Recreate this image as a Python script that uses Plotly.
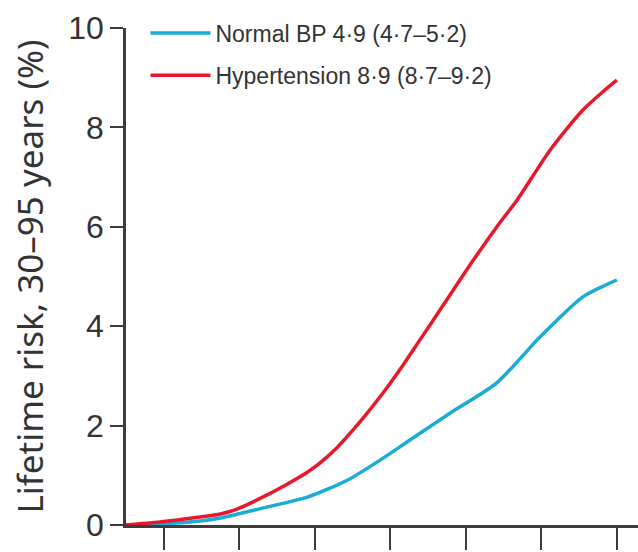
import plotly.graph_objects as go

age_hyp = [30, 34.5, 39.8, 42.5, 44.7, 48.1, 51.1, 54.0, 55.7, 57.9, 59.7, 61.4, 64.0, 66.7, 68.9, 71.6,
           76.0, 79.5, 81.8, 86.2, 90.5, 93.4, 95]
risk_hyp = [0, 0.06, 0.16, 0.22, 0.32, 0.56, 0.8, 1.06, 1.25, 1.55, 1.85, 2.15, 2.65, 3.22, 3.72, 4.33,
            5.33, 6.08, 6.54, 7.55, 8.35, 8.75, 8.95]

age_norm = [30, 34.5, 39.8, 42.5, 48.1, 54.0, 59.3, 63.6, 67.6, 72.9, 79.1, 84.8, 90.5, 93.4, 95]
risk_norm = [0, 0.02, 0.08, 0.14, 0.34, 0.56, 0.9, 1.3, 1.71, 2.25, 2.86, 3.78, 4.59, 4.82, 4.93]

x_ticks = [35, 45, 55, 65, 75, 85, 95]
y_ticks = [0, 2, 4, 6, 8, 10]

label_norm = "Normal BP 4·9 (4·7–5·2)"
label_hyp = "Hypertension 8·9 (8·7–9·2)"

SANS = "Liberation Sans, Arial, sans-serif"
AXIS = "#3c3c3c"
TXT = "#333333"

fig = go.Figure()
fig.add_trace(go.Scatter(x=age_norm, y=risk_norm, mode="lines", name=label_norm, showlegend=True,
                         line=dict(color="#1aabd6", width=3.5, shape="spline", smoothing=0.7),
                         legend="legend"))
fig.add_trace(go.Scatter(x=age_hyp, y=risk_hyp, mode="lines", name=label_hyp, showlegend=True,
                         line=dict(color="#e8182c", width=3.5, shape="spline", smoothing=0.7),
                         legend="legend2"))

leg_common = dict(xanchor="left", yanchor="middle", bgcolor="rgba(0,0,0,0)",
                  font=dict(family=SANS, size=23, color=TXT), itemwidth=60)
fig.update_layout(
    width=638, height=552,
    showlegend=True,
    margin=dict(l=126, r=0, t=28, b=27),
    plot_bgcolor="white", paper_bgcolor="white",
    legend=dict(x=0.038, y=0.99, **leg_common),
    legend2=dict(x=0.038, y=0.905, **leg_common),
    xaxis=dict(range=[30, 97.8], tickvals=x_ticks, showticklabels=False,
               ticks="outside", ticklen=22, tickwidth=2, tickcolor=AXIS,
               showline=True, linecolor=AXIS, linewidth=3, showgrid=False, zeroline=False),
    yaxis=dict(range=[0, 10], tickvals=y_ticks, ticks="outside", ticklen=13, tickwidth=2,
               tickcolor=AXIS, showline=True, linecolor=AXIS, linewidth=2.5,
               showgrid=False, zeroline=False,
               tickfont=dict(family=SANS, size=32, color=TXT),
               title=dict(text="Lifetime risk, 30–95 years (%)",
                          font=dict(family="Noto Sans, sans-serif", size=35, color=TXT),
                          standoff=15)),
)

fig.write_html("out.html")
